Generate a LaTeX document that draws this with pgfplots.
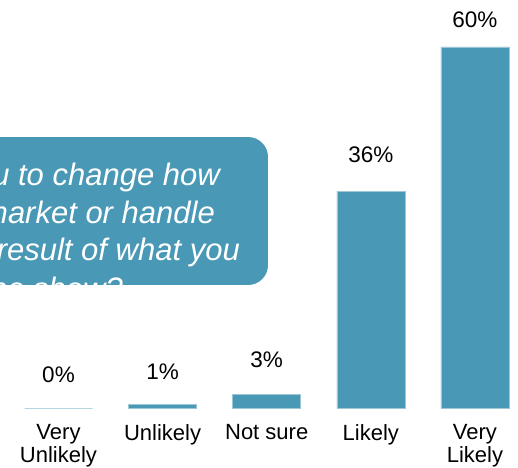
\documentclass[border=0pt]{standalone}
\usepackage{pgfplots}
\pgfplotsset{compat=1.18}
\usepackage{fontspec}
\setmainfont{Liberation Sans}
\definecolor{barblue}{RGB}{73,153,182}
\begin{document}
\begin{tikzpicture}
  \begin{axis}[
      at={(58.5pt,59pt)}, anchor=origin,
      x=104.1pt, y=6.017pt,
      xmin=-0.5, xmax=4.5, ymin=0, ymax=66,
      axis line style={draw=none},
      major tick length=0pt,
      ytick=\empty,
      xtick={0,1,2,3,4},
      xticklabels={{Very\\Unlikely},Unlikely,Not sure,Likely,{Very\\Likely}},
      xticklabel style={font=\fontsize{22}{23}\selectfont, align=center, anchor=north, inner sep=0pt, yshift=-16pt},
      clip=false,
    ]
    % bars (heights)
    \addplot[ybar, bar width=68pt, fill=barblue, draw=barblue!55!white, line width=0.5pt]
      coordinates {(0,0) (1,0.55) (2,2.3) (3,36) (4,60)};
    % value labels
    \addplot[draw=none, no markers, point meta=explicit symbolic,
      nodes near coords={\pgfplotspointmeta\%},
      every node near coord/.style={anchor=base, font=\fontsize{22.5}{23}\selectfont, text=black, inner sep=0pt}]
      coordinates {(0,4.32)[0] (1,4.82)[1] (2,6.81)[3] (3,40.72)[36] (4,63.3)[60]};
  \end{axis}
  % question callout, cut off at the left
  \begin{scope}
    \clip[rounded corners=20pt] (-40pt,182pt) rectangle (268pt,330pt);
    \fill[barblue] (-40pt,182pt) rectangle (268pt,330pt);
    \begin{scope}[every node/.style={anchor=base east, inner sep=0pt, text=white, font=\fontsize{31}{38}\selectfont\itshape}]
      \node at (220pt,282pt) {you to change how};
      \node at (215pt,244pt) {market or handle};
      \node at (240pt,207pt) {a result of what you};
      \node at (123pt,168pt) {the show?};
    \end{scope}
  \end{scope}
  \pgfresetboundingbox
  \useasboundingbox (0,0) rectangle (518pt,467pt);
\end{tikzpicture}
\end{document}
